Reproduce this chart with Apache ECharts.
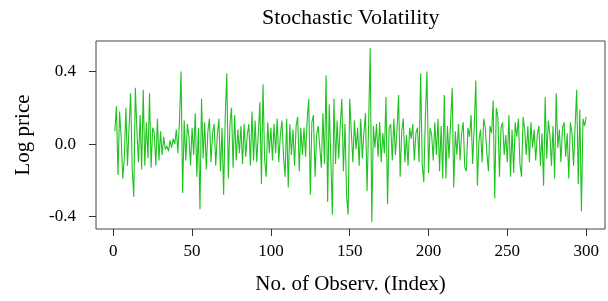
<!DOCTYPE html>
<html>
<head>
<meta charset="utf-8">
<script src="https://cdn.jsdelivr.net/npm/echarts@6/dist/echarts.min.js"></script>
<style>html,body{margin:0;padding:0;background:#fff}#c{width:608px;height:301px}</style>
</head>
<body>
<div id="c"></div>
<script>
var titleText = 'Stochastic Volatility';
var xName = 'No. of Observ. (Index)';
var yName = 'Log price';
var xTicks = [0, 50, 100, 150, 200, 250, 300];
var yTicks = [-0.4, 0, 0.4];
var logPrice = [
  0.07, 0.21, -0.17, 0.18, 0.04, -0.19, -0.08, 0.20, -0.12, 0.09,
  0.28, -0.13, -0.29, 0.31, 0.07, -0.10, 0.16, -0.14, 0.30, -0.12,
  0.12, -0.08, 0.28, -0.13, 0.09, 0.06, -0.12, 0.14, -0.09, 0.07,
  -0.06, 0.04, -0.03, -0.01, -0.04, 0.02, -0.02, 0.03, 0.00, 0.08,
  -0.05, 0.13, 0.40, -0.27, 0.13, -0.09, 0.11, 0.04, -0.12, 0.09,
  -0.06, 0.17, -0.18, 0.09, -0.36, 0.25, -0.08, 0.12, -0.14, 0.07,
  0.14, -0.10, 0.06, 0.11, -0.12, 0.05, 0.14, -0.15, 0.09, -0.28,
  0.14, 0.39, -0.19, 0.11, 0.20, -0.13, 0.16, -0.09, 0.08, -0.05,
  0.10, -0.11, 0.11, -0.07, 0.05, 0.11, -0.12, 0.18, -0.09, 0.13,
  -0.10, 0.06, 0.23, -0.22, 0.33, -0.08, -0.18, 0.12, -0.05, 0.09,
  -0.09, 0.11, -0.05, 0.14, -0.10, 0.05, 0.13, -0.07, -0.18, 0.14,
  -0.24, 0.11, -0.06, 0.08, -0.12, 0.10, 0.15, -0.15, 0.09, -0.06,
  0.09, -0.07, 0.13, 0.25, -0.28, 0.12, 0.16, -0.18, 0.05, 0.10,
  0.09, -0.13, 0.17, -0.11, 0.38, -0.32, 0.22, -0.08, -0.39, 0.25,
  -0.11, 0.13, -0.08, 0.10, 0.25, -0.15, 0.11, -0.28, -0.39, 0.25,
  0.07, -0.10, 0.13, -0.03, 0.09, -0.12, 0.14, -0.08, 0.06, 0.17,
  -0.26, 0.11, 0.53, -0.43, 0.10, -0.02, 0.11, -0.07, 0.12, -0.10,
  0.06, -0.05, 0.26, -0.33, 0.09, 0.11, -0.09, 0.14, -0.06, 0.08,
  0.27, -0.18, 0.07, 0.14, -0.10, 0.05, -0.12, 0.09, 0.03, 0.11,
  -0.09, 0.06, 0.09, -0.10, 0.39, -0.11, -0.21, 0.15, 0.40, -0.16,
  0.09, 0.05, -0.09, 0.12, -0.06, 0.14, -0.15, 0.10, -0.19, 0.27,
  -0.19, 0.10, -0.08, 0.12, 0.31, -0.24, 0.07, -0.06, 0.11, -0.09,
  0.06, 0.12, -0.13, -0.15, 0.09, 0.04, 0.16, -0.11, 0.10, 0.35,
  -0.23, 0.02, 0.08, -0.10, 0.14, 0.09, -0.05, -0.15, 0.10, 0.06,
  0.24, -0.30, 0.20, 0.15, -0.18, 0.09, 0.12, -0.06, 0.05, -0.10,
  0.16, -0.18, 0.08, -0.16, 0.12, 0.04, 0.14, -0.11, -0.18, 0.15,
  0.08, -0.06, 0.10, -0.10, 0.12, -0.02, 0.08, -0.09, 0.05, 0.10,
  -0.12, 0.06, -0.23, 0.26, -0.08, 0.13, 0.05, -0.12, 0.10, -0.19,
  0.28, -0.02, 0.08, -0.10, 0.09, 0.12, -0.07, 0.06, -0.19, 0.12,
  0.06, -0.12, 0.10, 0.30, -0.22, 0.19, -0.37, 0.14, 0.10, 0.15
];

var serif = 'Liberation Serif';
var points = logPrice.map(function (v, i) { return [i + 1, v]; });
var n = logPrice.length;
var ymin = Math.min.apply(null, logPrice), ymax = Math.max.apply(null, logPrice);
var xpad = 0.04 * (n - 1), ypad = 0.04 * (ymax - ymin);

var chart = echarts.init(document.getElementById('c'), null, {renderer: 'canvas'});
chart.setOption({
  animation: false,
  backgroundColor: '#fff',
  title: {
    text: titleText, left: 257, top: 2,
    textStyle: {fontFamily: serif, fontSize: 22, fontWeight: 'normal', color: '#000'}
  },
  grid: {left: 96, right: 3, top: 41, bottom: 72, show: true, borderColor: '#444', borderWidth: 1, backgroundColor: 'transparent'},
  xAxis: {
    type: 'value', min: 1 - xpad, max: n + xpad,
    name: xName, nameLocation: 'middle', nameGap: 45,
    nameTextStyle: {fontFamily: serif, fontSize: 21, color: '#000'},
    axisLine: {show: false, onZero: false},
    axisTick: {show: true, length: 7, customValues: xTicks, lineStyle: {color: '#333'}},
    axisLabel: {customValues: xTicks, margin: 14, fontFamily: serif, fontSize: 17, color: '#000'},
    splitLine: {show: false}
  },
  yAxis: {
    type: 'value', min: ymin - ypad, max: ymax + ypad,
    name: yName, nameLocation: 'middle', nameGap: 62, nameRotate: 90,
    nameTextStyle: {fontFamily: serif, fontSize: 21, color: '#000'},
    axisLine: {show: false, onZero: false},
    axisTick: {show: true, length: 7, customValues: yTicks, lineStyle: {color: '#333'}},
    axisLabel: {customValues: yTicks, margin: 20, fontFamily: serif, fontSize: 17, color: '#000',
      formatter: function (v) { return v.toFixed(1); }},
    splitLine: {show: false}
  },
  series: [{
    type: 'line', data: points, showSymbol: false, symbol: 'none',
    lineStyle: {color: '#1FC21F', width: 1.1}, itemStyle: {color: '#1FC21F'}
  }]
});
</script>
</body>
</html>
